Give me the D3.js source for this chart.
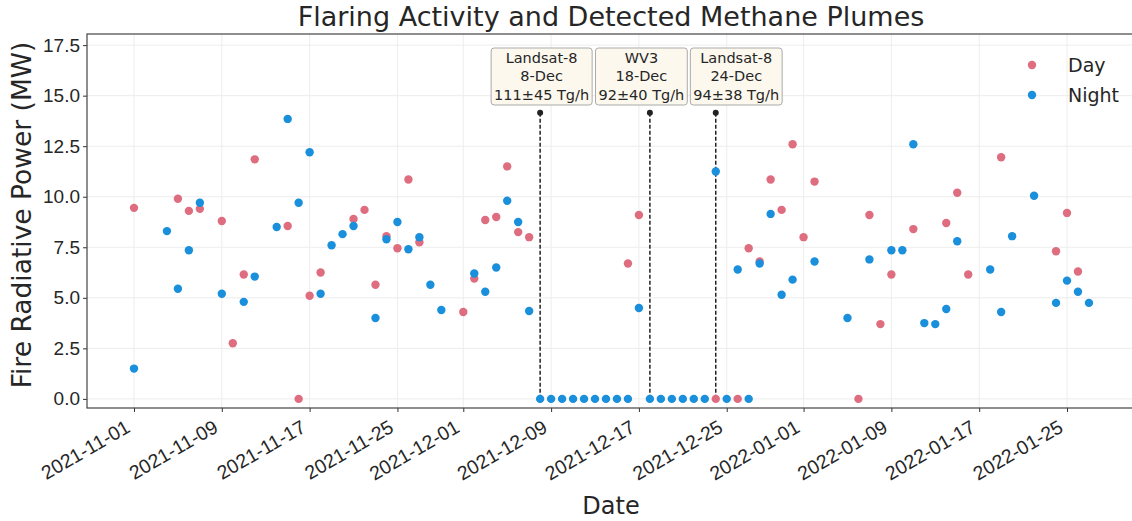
<!DOCTYPE html>
<html lang="en">
<head>
<meta charset="utf-8">
<title>Flaring Activity and Detected Methane Plumes</title>
<script src="https://d3js.org/d3.v7.min.js"></script>
<style>
  body { margin: 0; background: #fff; }
  svg { font-family: "DejaVu Sans", sans-serif; }
</style>
</head>
<body>
<div id="chart"></div>
<script>
// Day (red) observations
var dayDates = ["2021-11-01","2021-11-05","2021-11-06","2021-11-07","2021-11-09","2021-11-10","2021-11-11","2021-11-12",
  "2021-11-15","2021-11-16","2021-11-17","2021-11-18","2021-11-21","2021-11-22","2021-11-23","2021-11-24","2021-11-25",
  "2021-11-26","2021-11-27","2021-12-01","2021-12-02","2021-12-03","2021-12-04","2021-12-05","2021-12-06","2021-12-07",
  "2021-12-16","2021-12-17","2021-12-24","2021-12-26","2021-12-27","2021-12-28","2021-12-29","2021-12-30","2021-12-31",
  "2022-01-01","2022-01-02","2022-01-06","2022-01-07","2022-01-08","2022-01-09","2022-01-11","2022-01-14","2022-01-15",
  "2022-01-16","2022-01-19","2022-01-24","2022-01-25","2022-01-26"];
var dayFRP = [9.45,9.9,9.3,9.4,8.8,2.75,6.15,11.85,
  8.55,0,5.1,6.25,8.9,9.35,5.65,8.05,7.45,
  10.85,7.75,4.3,5.95,8.85,9.0,11.5,8.25,8.0,
  6.7,9.1,0,0,7.45,6.8,10.85,9.35,12.6,
  8.0,10.75,0,9.1,3.7,6.15,8.4,8.7,10.2,
  6.15,11.95,7.3,9.2,6.3];

// Night (blue) observations
var nightDates = ["2021-11-01","2021-11-04","2021-11-05","2021-11-06","2021-11-07","2021-11-09","2021-11-11","2021-11-12",
  "2021-11-14","2021-11-15","2021-11-16","2021-11-17","2021-11-18","2021-11-19","2021-11-20","2021-11-21","2021-11-23",
  "2021-11-24","2021-11-25","2021-11-26","2021-11-27","2021-11-28","2021-11-29","2021-12-02","2021-12-03","2021-12-04",
  "2021-12-05","2021-12-06","2021-12-07","2021-12-08","2021-12-09","2021-12-10","2021-12-11","2021-12-12","2021-12-13",
  "2021-12-14","2021-12-15","2021-12-16","2021-12-17","2021-12-18","2021-12-19","2021-12-20","2021-12-21","2021-12-22",
  "2021-12-23","2021-12-24","2021-12-25","2021-12-26","2021-12-27","2021-12-28","2021-12-29","2021-12-30","2021-12-31",
  "2022-01-02","2022-01-05","2022-01-07","2022-01-09","2022-01-10","2022-01-11","2022-01-12","2022-01-13","2022-01-14",
  "2022-01-15","2022-01-18","2022-01-19","2022-01-20","2022-01-22","2022-01-24","2022-01-25","2022-01-26","2022-01-27"];
var nightFRP = [1.5,8.3,5.45,7.35,9.7,5.2,4.8,6.05,
  8.5,13.85,9.7,12.2,5.2,7.6,8.15,8.55,4.0,
  7.9,8.75,7.4,8.0,5.65,4.4,6.2,5.3,6.5,
  9.8,8.75,4.35,0,0,0,0,0,0,
  0,0,0,4.5,0,0,0,0,0,
  0,11.25,0,6.4,0,6.7,9.15,5.15,5.9,
  6.8,4.0,6.9,7.35,7.35,12.6,3.75,3.7,4.45,
  7.8,6.4,4.3,8.05,10.05,4.75,5.85,5.3,4.75];

// plume detections
var detDates = ["2021-12-08","2021-12-18","2021-12-24"];
var detSensor = ["Landsat-8","WV3","Landsat-8"];
var detLabel = ["8-Dec","18-Dec","24-Dec"];
var detRate = ["111\u00b145 Tg/h","92\u00b140 Tg/h","94\u00b138 Tg/h"];

var tickDates = ["2021-11-01","2021-11-09","2021-11-17","2021-11-25","2021-12-01","2021-12-09",
  "2021-12-17","2021-12-25","2022-01-01","2022-01-09","2022-01-17","2022-01-25"];
var yTicks = [0, 2.5, 5, 7.5, 10, 12.5, 15, 17.5];

var parse = d3.timeParse("%Y-%m-%d");
var dayColor = "#df6d80", nightColor = "#1a8fdb";

var width = 1132, height = 521;
var plotLeft = 87, plotRight = 1135, plotTop = 34, plotBottom = 408;

var svg = d3.select("#chart").append("svg")
  .attr("width", width).attr("height", height);

var x = d3.scaleTime()
  .domain([parse("2021-11-01"), parse("2022-01-25")])
  .range([134, 1067]);
var y = d3.scaleLinear().domain([-0.45, 18.05]).range([plotBottom, plotTop]);

// grid
var grid = svg.append("g").attr("stroke", "#ededed").attr("stroke-width", 1);
grid.selectAll(".gx").data(tickDates).enter().append("line")
  .attr("x1", function(d) { return x(parse(d)); }).attr("x2", function(d) { return x(parse(d)); })
  .attr("y1", plotTop).attr("y2", plotBottom);
grid.selectAll(".gy").data(yTicks).enter().append("line")
  .attr("x1", plotLeft).attr("x2", plotRight)
  .attr("y1", function(d) { return y(d); }).attr("y2", function(d) { return y(d); });

// axes
var xAxis = svg.append("g")
  .attr("transform", "translate(0," + plotBottom + ")")
  .call(d3.axisBottom(x).tickValues(tickDates.map(parse))
    .tickFormat(d3.timeFormat("%Y-%m-%d")).tickSize(4).tickPadding(3));
xAxis.select(".domain").remove();
xAxis.selectAll("text")
  .attr("x", 0).attr("y", 0).attr("dy", 0)
  .attr("transform", "translate(-3,23) rotate(-30)")
  .style("text-anchor", "end")
  .attr("font-size", 19.5).attr("fill", "#262626");

var yAxis = svg.append("g")
  .attr("transform", "translate(" + plotLeft + ",0)")
  .call(d3.axisLeft(y).tickValues(yTicks).tickFormat(d3.format(".1f")).tickSize(4).tickPadding(3));
yAxis.select(".domain").remove();
yAxis.selectAll("text").attr("font-size", 19).attr("fill", "#262626");
svg.selectAll(".tick line").attr("stroke", "#333");

// frame
svg.append("rect")
  .attr("x", plotLeft).attr("y", plotTop)
  .attr("width", plotRight - plotLeft).attr("height", plotBottom - plotTop)
  .attr("fill", "none").attr("stroke", "#444").attr("stroke-width", 1.2);

// detection lines
var det = svg.append("g");
det.selectAll("line").data(detDates).enter().append("line")
  .attr("x1", function(d) { return x(parse(d)); }).attr("x2", function(d) { return x(parse(d)); })
  .attr("y1", y(14.15)).attr("y2", y(0))
  .attr("stroke", "#222").attr("stroke-width", 1.5).attr("stroke-dasharray", "4,2");
det.selectAll("circle").data(detDates).enter().append("circle")
  .attr("cx", function(d) { return x(parse(d)); }).attr("cy", y(14.15))
  .attr("r", 3).attr("fill", "#222");

// points
svg.append("g").selectAll("circle").data(dayDates).enter().append("circle")
  .attr("cx", function(d) { return x(parse(d)); })
  .attr("cy", function(d, i) { return y(dayFRP[i]); })
  .attr("r", 4.2).attr("fill", dayColor);
svg.append("g").selectAll("circle").data(nightDates).enter().append("circle")
  .attr("cx", function(d) { return x(parse(d)); })
  .attr("cy", function(d, i) { return y(nightFRP[i]); })
  .attr("r", 4.2).attr("fill", nightColor);

// annotation boxes
var boxShift = [1.5, -8.5, 20.5];
detDates.forEach(function(d, i) {
  var cx = x(parse(d)) + boxShift[i];
  var g = svg.append("g");
  var rect = g.append("rect");
  var lines = [detSensor[i], detLabel[i], detRate[i]];
  var maxW = 0;
  lines.forEach(function(t, j) {
    var tx = g.append("text")
      .attr("x", cx).attr("y", 63 + j * 18.3)
      .attr("text-anchor", "middle").attr("font-size", 14.5).attr("fill", "#262626")
      .text(t);
    maxW = Math.max(maxW, tx.node().getComputedTextLength());
  });
  rect.attr("x", cx - maxW / 2 - 3).attr("y", 48)
    .attr("width", maxW + 6).attr("height", 57).attr("rx", 3)
    .attr("fill", "#fcf8ee").attr("stroke", "#aaa").attr("stroke-width", 1);
});

// legend
var legend = svg.append("g");
[["Day", dayColor], ["Night", nightColor]].forEach(function(item, i) {
  legend.append("circle").attr("cx", 1032).attr("cy", 65 + i * 30).attr("r", 4.2).attr("fill", item[1]);
  legend.append("text").attr("x", 1068).attr("y", 72 + i * 30)
    .attr("font-size", 19).attr("fill", "#262626").text(item[0]);
});

// titles
svg.append("text").attr("x", 611).attr("y", 26).attr("text-anchor", "middle")
  .attr("font-size", 27).attr("fill", "#262626").text("Flaring Activity and Detected Methane Plumes");
svg.append("text").attr("x", 611).attr("y", 514).attr("text-anchor", "middle")
  .attr("font-size", 24).attr("fill", "#262626").text("Date");
svg.append("text").attr("transform", "translate(31,215) rotate(-90)").attr("text-anchor", "middle")
  .attr("font-size", 26.5).attr("fill", "#262626").text("Fire Radiative Power (MW)");
</script>
</body>
</html>
